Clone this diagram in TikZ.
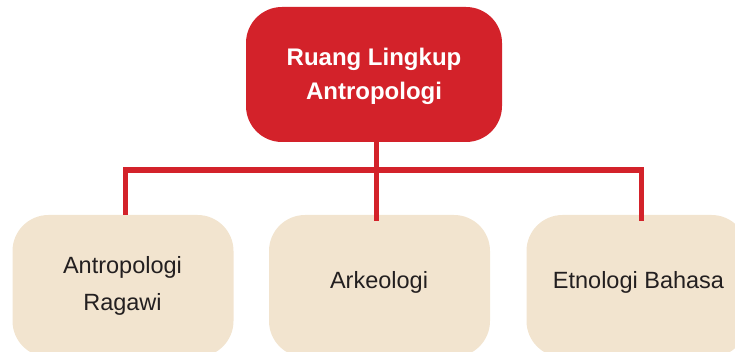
\documentclass[tikz,border=0pt]{standalone}
\usepackage{fontspec}
\setmainfont{Liberation Sans}
\definecolor{scopered}{HTML}{D3222A}
\definecolor{fieldbeige}{HTML}{F2E4CF}
\definecolor{inkdark}{HTML}{231F20}
\begin{document}
\begin{tikzpicture}[x=1pt,y=-1pt,
  rootbox/.style={fill=scopered, rounded corners=36pt, minimum width=256pt, minimum height=135pt, inner sep=0pt},
  fieldbox/.style={fill=fieldbeige, rounded corners=36pt, minimum width=221pt, minimum height=142pt, inner sep=0pt},
  roottext/.style={anchor=base, text=white, font=\fontsize{24}{28}\selectfont\bfseries, inner sep=0pt},
  fieldtext/.style={anchor=base, text=inkdark, font=\fontsize{23.5}{28}\selectfont, inner sep=0pt},
  conn/.style={draw=scopered, line width=5.5pt, line join=miter, line cap=butt}]
\useasboundingbox (0,0) rectangle (735,352);
\clip (0,0) rectangle (735,352);

% boxes
\node[rootbox]  (root) at (374,74.5) {};
\node[fieldbox] (lft)  at (123,286) {};
\node[fieldbox] (mid)  at (379.5,286) {};
\node[fieldbox] (rgt)  at (637,286) {};

% connectors
\coordinate (bus) at (376.5,170);
\coordinate (t1) at ([xshift=2.5pt]root.south);
\coordinate (t2) at ([xshift=-3pt,yshift=-6pt]mid.north);
\coordinate (l1) at ([xshift=2.5pt]lft.north);
\coordinate (r1) at ([xshift=4.5pt,yshift=-6pt]rgt.north);
\draw[conn] (t1) -- (t1 |- t2);
\draw[conn] (l1) -- (l1 |- bus) -- (r1 |- bus) -- (r1);

% labels
\node[roottext] (rt1) at (374,66) {Ruang Lingkup};
\node[roottext] (rt2) at (374,100) {Antropologi};
\node[fieldtext] (lt1) at (122.5,273) {Antropologi};
\node[fieldtext] (lt2) at (122.5,310) {Ragawi};
\node[fieldtext] (mt)  at (379,288) {Arkeologi};
\node[fieldtext] (rt)  at (638.5,288) {Etnologi Bahasa};
\end{tikzpicture}
\end{document}
